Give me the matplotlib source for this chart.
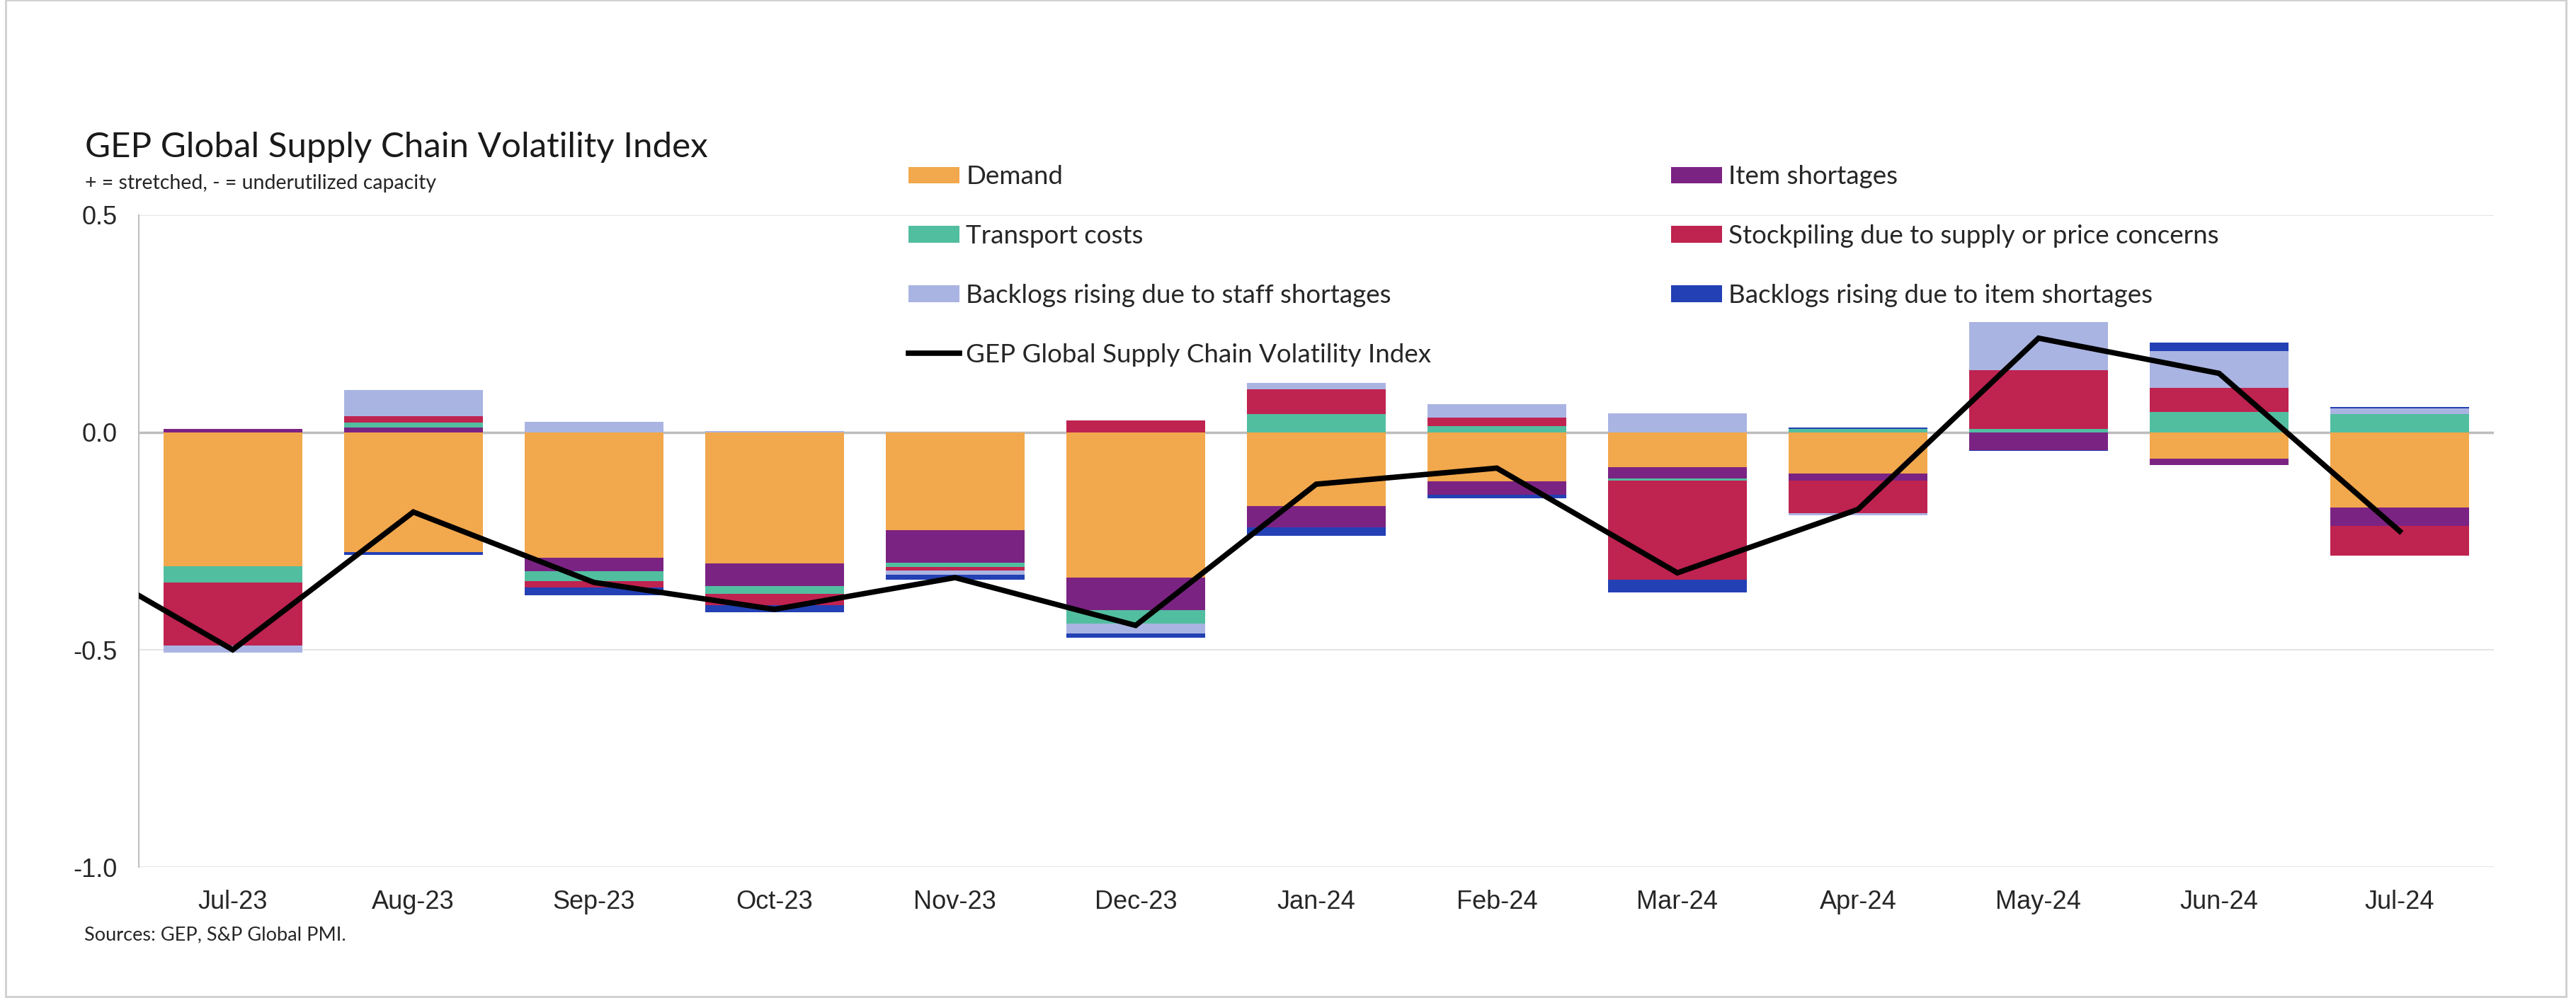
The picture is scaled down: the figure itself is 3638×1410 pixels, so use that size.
import matplotlib.pyplot as plt
import numpy as np
from matplotlib.patches import Rectangle

plt.rcParams['font.family'] = ['Liberation Sans', 'DejaVu Sans']

# Data
months = ['Jul-23', 'Aug-23', 'Sep-23', 'Oct-23', 'Nov-23', 'Dec-23', 'Jan-24',
          'Feb-24', 'Mar-24', 'Apr-24', 'May-24', 'Jun-24', 'Jul-24']
demand = [-0.307, -0.275, -0.289, -0.302, -0.224, -0.334, -0.170,
          -0.113, -0.079, -0.094, 0.0, -0.061, -0.172]
item_shortages = [0.008, 0.012, -0.030, -0.051, -0.075, -0.074, -0.048,
                  -0.030, -0.027, -0.016, -0.040, -0.014, -0.043]
transport = [-0.039, 0.010, -0.023, -0.019, -0.011, -0.032, 0.042,
             0.014, -0.004, 0.008, 0.008, 0.047, 0.043]
stockpiling = [-0.145, 0.016, -0.014, -0.026, -0.007, 0.028, 0.057,
               0.020, -0.228, -0.075, 0.136, 0.056, -0.068]
backlog_staff = [-0.016, 0.059, 0.025, 0.004, -0.010, -0.023, 0.015,
                 0.031, 0.044, -0.005, 0.110, 0.084, 0.013]
backlog_items = [0.0, -0.007, -0.018, -0.015, -0.011, -0.010, -0.020,
                 -0.008, -0.030, 0.004, -0.003, 0.020, 0.002]
# index starts one month earlier (Jun-23), which sits just off the left edge
index_months = ['Jun-23'] + months
index_values = [-0.26, -0.50, -0.183, -0.345, -0.407, -0.334, -0.444,
                -0.119, -0.082, -0.323, -0.177, 0.217, 0.136, -0.227]

series = [
    ('Demand', demand, '#F2A84C'),
    ('Item shortages', item_shortages, '#7B2383'),
    ('Transport costs', transport, '#52BEA0'),
    ('Stockpiling due to supply or price concerns', stockpiling, '#BF2350'),
    ('Backlogs rising due to staff shortages', backlog_staff, '#AAB4E2'),
    ('Backlogs rising due to item shortages', backlog_items, '#2340B4'),
]
line_name = 'GEP Global Supply Chain Volatility Index'

fig = plt.figure(figsize=(36.38, 14.10), dpi=100)
ax = fig.add_axes([0.0539, 0.1312, 0.9141, 0.6532])

x = np.arange(len(months))
pos_bottom = np.zeros(len(months))
neg_bottom = np.zeros(len(months))
handles = {}
for name, vals, color in series:
    v = np.array(vals)
    pos = np.where(v > 0, v, 0)
    neg = np.where(v < 0, v, 0)
    handles[name] = ax.bar(x, pos, 0.77, bottom=pos_bottom, color=color, zorder=3)
    ax.bar(x, neg, 0.77, bottom=neg_bottom, color=color, zorder=3)
    pos_bottom += pos
    neg_bottom += neg

idx_x = np.arange(-1, len(months))
handles[line_name], = ax.plot(idx_x, index_values, color='black', lw=5.5,
                              solid_joinstyle='miter', zorder=4)

# axes styling
ax.set_xlim(-0.52, 12.52)
ax.set_ylim(-1.0, 0.5)
ax.set_yticks([-1.0, -0.5, 0.0, 0.5], ['-1.0', '-0.5', '0.0', '0.5'])
ax.set_xticks(x, months)
ax.tick_params(axis='both', length=0, labelsize=26, labelcolor='#262626')
ax.tick_params(axis='x', pad=23)
ax.tick_params(axis='y', pad=22)
ax.set_axisbelow(True)
ax.yaxis.grid(True, color='#e6e6e6', lw=1.5)
ax.axhline(0, color='#bdbdbd', lw=2.5, zorder=1)
for s in ['top', 'right', 'bottom']:
    ax.spines[s].set_visible(False)
ax.spines['left'].set_color('#bfbfbf')
ax.spines['left'].set_linewidth(1.5)

# legends (two columns placed by hand)
leg_kw = dict(frameon=False, loc='upper left', borderpad=0, borderaxespad=0,
              handlelength=1.96, handleheight=0.6, handletextpad=0.25,
              labelspacing=1.38, prop={'family': 'Lato', 'size': 26.5},
              labelcolor='#262626')
left_names = ['Demand', 'Transport costs', 'Backlogs rising due to staff shortages', line_name]
right_names = ['Item shortages', 'Stockpiling due to supply or price concerns',
               'Backlogs rising due to item shortages']
fig.legend([handles[n] for n in left_names], left_names,
           bbox_to_anchor=(0.3527, 0.8345), **leg_kw)
fig.legend([handles[n] for n in right_names], right_names,
           bbox_to_anchor=(0.6487, 0.8345), **leg_kw)

# texts
fig.text(0.033, 0.8426, 'GEP Global Supply Chain Volatility Index', family='Lato',
         fontsize=35.5, color='#1a1a1a', va='baseline')
fig.text(0.033, 0.8106, '+ = stretched, - = underutilized capacity', family='Lato',
         fontsize=20.5, color='#262626', va='baseline')
fig.text(0.0327, 0.0582, 'Sources: GEP, S&P Global PMI.', family='Lato',
         fontsize=19.5, color='#262626', va='baseline')

# thin frame round the whole picture
fig.patches.append(Rectangle((0.0022, 0.0014), 0.9940, 0.9986, transform=fig.transFigure,
                             fill=False, edgecolor='#cfcfcf', lw=2))

fig.savefig('out.png', dpi=100)
